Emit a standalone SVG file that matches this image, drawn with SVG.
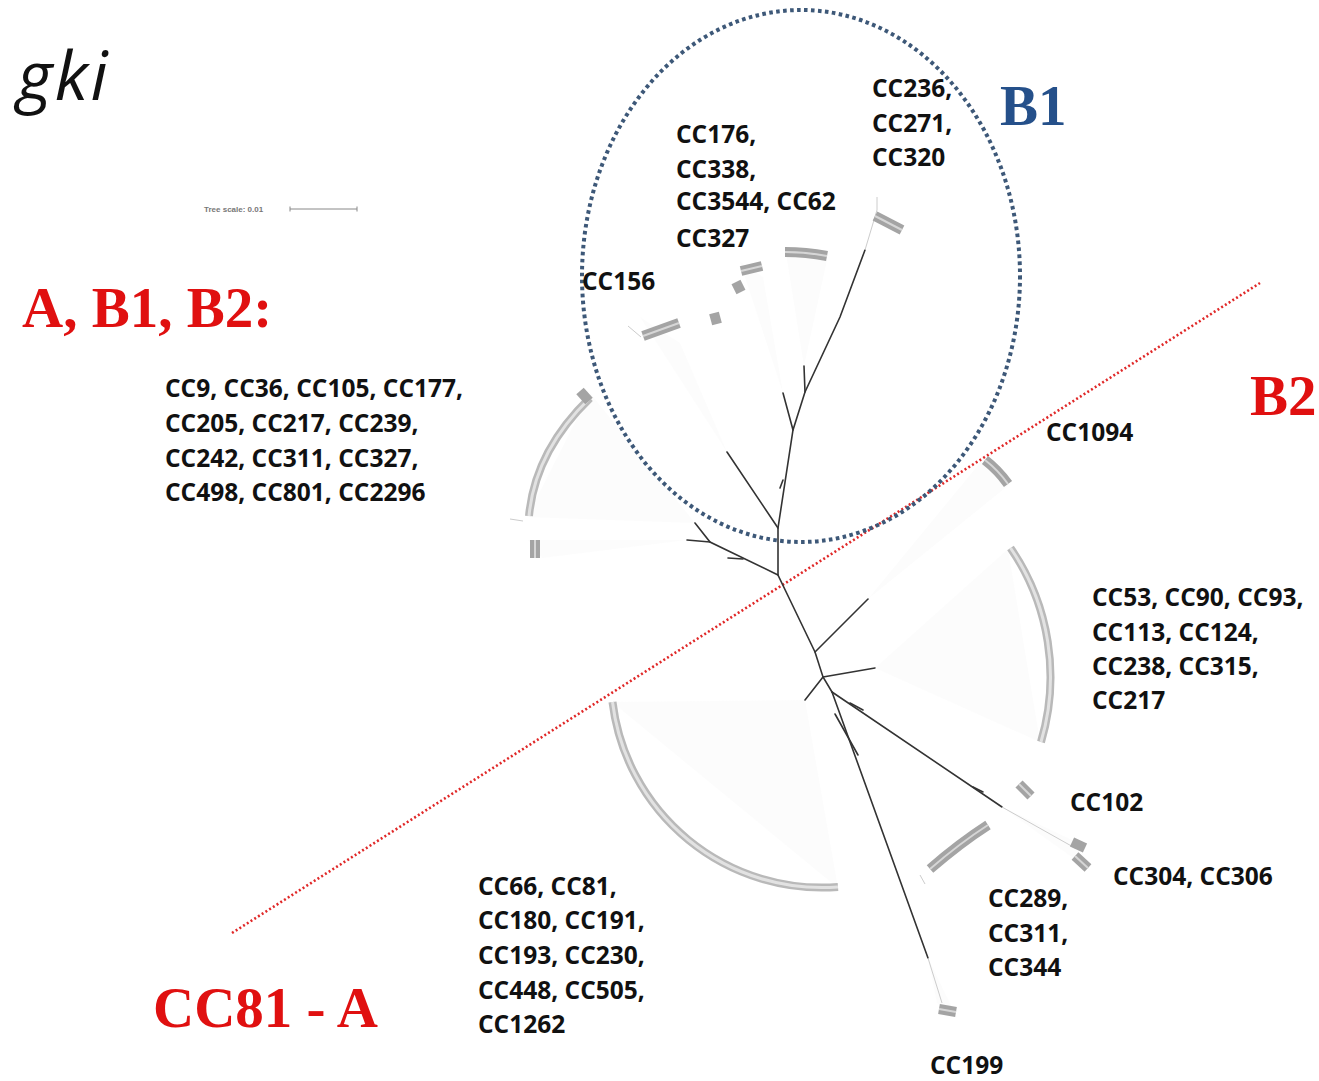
<svg xmlns="http://www.w3.org/2000/svg" width="1319" height="1081" viewBox="0 0 1319 1081">
  <style>
    .lbl { font-family: "Open Sans", "Liberation Sans", sans-serif; font-weight: 700; font-size: 24.5px; fill: #111; }
    .grp { font-family: "Liberation Serif", "Times New Roman", serif; font-weight: 700; font-size: 57px; }
    .red { fill: #e01010; }
    .blue { fill: #25508a; }
    .br { fill: none; stroke: #333; stroke-width: 1.6; stroke-linecap: round; }
    .faint { fill: none; stroke: #ccc; stroke-width: 1; }
    .band { fill: none; stroke: #b9b9b9; stroke-width: 8; }
    .bandc { fill: none; stroke: #e2e2e2; stroke-width: 3; }
    .bar { fill: none; stroke: #a4a4a4; stroke-width: 10; }
    .barc { fill: none; stroke: #d6d6d6; stroke-width: 2; }
    .fan { fill: #e6e6e6; opacity: 0.12; }
  </style>

  <rect width="1319" height="1081" fill="#fff"/>

  <!-- gene name -->
  <text x="17" y="100" font-family="Open Sans, Liberation Sans, sans-serif" font-style="italic" font-size="68" letter-spacing="2.5" fill="#111">gki</text>

  <!-- scale bar -->
  <g id="tree-scale" fill="#777" stroke="#888">
    <text x="204" y="212" font-family="Liberation Sans, Arial, sans-serif" font-size="8" font-weight="700" stroke="none">Tree scale: 0.01</text>
    <path d="M290,209 H357 M290,206.5 V211.5 M357,206.5 V211.5" stroke-width="1" fill="none"/>
  </g>

  <!-- faint leaf fans -->
  <g id="fans">
    <polygon class="fan" points="875,668 1008,549 1040,742"/>
    <polygon class="fan" points="868,599 984,458 1010,484"/>
    <polygon class="fan" points="805,700 612,702 838,888"/>
    <polygon class="fan" points="695,523 590,393 527,517"/>
    <polygon class="fan" points="687,540 528,540 542,558"/>
    <polygon class="fan" points="727,452 640,317 680,343"/>
    <polygon class="fan" points="783,393 740,262 763,277"/>
    <polygon class="fan" points="804,366 785,247 827,260"/>
    <polygon class="fan" points="1002,807 1072,840 1090,870"/>
    <polygon class="fan" points="928,958 937,1003 957,1018"/>
  </g>

  <!-- group divider and B1 outline -->
  <line x1="232" y1="933" x2="1260" y2="283" stroke="#e02828" stroke-width="2.6" stroke-dasharray="2 2.4"/>
  <ellipse cx="801" cy="276" rx="219" ry="266" fill="none" stroke="#3d5878" stroke-width="4" stroke-dasharray="3.6 3.4"/>

  <!-- tree branches -->
  <g id="connectors">
    <path class="br" d="M865,250 L840,317 L805,392 L793,430 L778,528 L778,575 L790,600 L815,652 L823,677 L832,692"/>
    <path class="br" d="M805,392 L804,366"/>
    <path class="br" d="M793,430 L783,393"/>
    <path class="br" d="M783,480 L780,488"/>
    <path class="br" d="M778,528 L727,452"/>
    <path class="br" d="M778,575 L710,542 L695,523"/>
    <path class="br" d="M710,542 L687,540"/>
    <path class="br" d="M743,559 L728,558"/>
    <path class="br" d="M815,652 L868,599"/>
    <path class="br" d="M823,677 L875,668"/>
    <path class="br" d="M823,677 L805,700"/>
    <path class="br" d="M832,692 L1002,807"/>
    <path class="br" d="M850,703 L863,710" stroke-width="2.4"/>
    <path class="br" d="M973,787 L983,792" stroke-width="2.4"/>
    <path class="br" d="M832,692 L928,958"/>
    <path class="br" d="M835,714 L858,755"/>
    <path class="faint" d="M1002,807 L1075,848 M928,958 L942,1003 M865,250 L877,210 M877,197 V210"/>
  </g>

  <!-- B1 clade -->
  <g id="node-cc236">
    <path class="bar" d="M875,216 L902,230" stroke="#8e8e8e"/>
    <path class="barc" d="M875,216 L902,230"/>
    <text class="lbl" x="872" y="97">CC236,</text>
    <text class="lbl" x="872" y="132">CC271,</text>
    <text class="lbl" x="872" y="166">CC320</text>
  </g>
  <g id="node-cc176">
    <path class="bar" d="M785,252 Q806,252 827,256" stroke-width="12"/>
    <path class="barc" d="M785,252 Q806,252 827,256"/>
    <path class="bar" d="M741,271 L762,266"/>
    <path class="barc" d="M741,271 L762,266"/>
    <path class="bar" d="M736,282 L741,292" stroke-width="5"/>
    <path class="bar" d="M714,313 L717,324" stroke-width="3"/>
    <text class="lbl" x="676" y="143">CC176,</text>
    <text class="lbl" x="676" y="178">CC338,</text>
    <text class="lbl" x="676" y="210">CC3544, CC62</text>
    <text class="lbl" x="676" y="247">CC327</text>
  </g>
  <g id="node-cc156">
    <path class="bar" d="M643,336 L679,323"/>
    <path class="barc" d="M643,336 L679,323"/>
    <path class="faint" d="M628,326 L641,337" stroke="#999"/>
    <text class="lbl" x="582" y="290">CC156</text>
  </g>

  <!-- mixed clade, upper left -->
  <g id="node-cc9">
    <path class="band" d="M590,398 Q535,451 529,516"/>
    <path class="bandc" d="M590,398 Q535,451 529,516"/>
    <path class="bar" d="M580,391 L589,401" stroke-width="6"/>
    <path class="faint" d="M510,519 L523,521" stroke="#999" stroke-width="2"/>
    <path class="bar" d="M535,540 L535,558" stroke-width="10"/>
    <path class="barc" d="M535,540 L535,558" stroke-width="3"/>
    <text class="lbl" x="165" y="397">CC9, CC36, CC105, CC177,</text>
    <text class="lbl" x="165" y="432">CC205, CC217, CC239,</text>
    <text class="lbl" x="165" y="467">CC242, CC311, CC327,</text>
    <text class="lbl" x="165" y="501">CC498, CC801, CC2296</text>
  </g>

  <!-- B2 clade -->
  <g id="node-cc1094">
    <path class="bar" d="M985,460 Q998,470 1008,484"/>
    <path class="barc" d="M985,460 Q998,470 1008,484"/>
    <text class="lbl" x="1046" y="441">CC1094</text>
  </g>
  <g id="node-cc53">
    <path class="band" d="M1010.5,548 A228,228 0 0 1 1041,742"/>
    <path class="bandc" d="M1010.5,548 A228,228 0 0 1 1041,742"/>
    <text class="lbl" x="1092" y="606">CC53, CC90, CC93,</text>
    <text class="lbl" x="1092" y="641">CC113, CC124,</text>
    <text class="lbl" x="1092" y="675">CC238, CC315,</text>
    <text class="lbl" x="1092" y="709">CC217</text>
  </g>
  <g id="node-cc102">
    <path class="bar" d="M1019,784 L1031,796"/>
    <path class="barc" d="M1019,784 L1031,796"/>
    <text class="lbl" x="1070" y="811">CC102</text>
  </g>
  <g id="node-cc304">
    <path class="bar" d="M1072,842 L1085,848" stroke-width="3"/>
    <path class="bar" d="M1075,856 L1088,868" stroke="#888"/>
    <path class="barc" d="M1075,856 L1088,868"/>
    <text class="lbl" x="1113" y="885">CC304, CC306</text>
  </g>
  <g id="node-cc289">
    <path class="bar" d="M930,869 Q960,843 988,825" stroke-width="9"/>
    <path class="barc" d="M930,869 Q960,843 988,825"/>
    <path class="faint" d="M920,875 L925,884" stroke="#aaa" stroke-width="2"/>
    <text class="lbl" x="988" y="907">CC289,</text>
    <text class="lbl" x="988" y="942">CC311,</text>
    <text class="lbl" x="988" y="976">CC344</text>
  </g>
  <g id="node-cc199">
    <path class="bar" d="M939,1009 L956,1012" stroke="#777"/>
    <path class="barc" d="M939,1009 L956,1012" stroke="#bbb"/>
    <text class="lbl" x="930" y="1074">CC199</text>
  </g>

  <!-- CC81 clade -->
  <g id="node-cc66">
    <path class="band" d="M612.5,702 A211,211 0 0 0 838,887"/>
    <path class="bandc" d="M612.5,702 A211,211 0 0 0 838,887"/>
    <text class="lbl" x="478" y="895">CC66, CC81,</text>
    <text class="lbl" x="478" y="929">CC180, CC191,</text>
    <text class="lbl" x="478" y="964">CC193, CC230,</text>
    <text class="lbl" x="478" y="999">CC448, CC505,</text>
    <text class="lbl" x="478" y="1033">CC1262</text>
  </g>

  <!-- group headings -->
  <g id="heading-all">
    <text class="grp red" x="22" y="327">A, B1, B2:</text>
  </g>
  <g id="heading-b1">
    <text class="grp blue" x="1000" y="125">B1</text>
  </g>
  <g id="heading-b2">
    <text class="grp red" x="1250" y="415">B2</text>
  </g>
  <g id="heading-a">
    <text class="grp red" x="153" y="1027">CC81 - A</text>
  </g>
</svg>
